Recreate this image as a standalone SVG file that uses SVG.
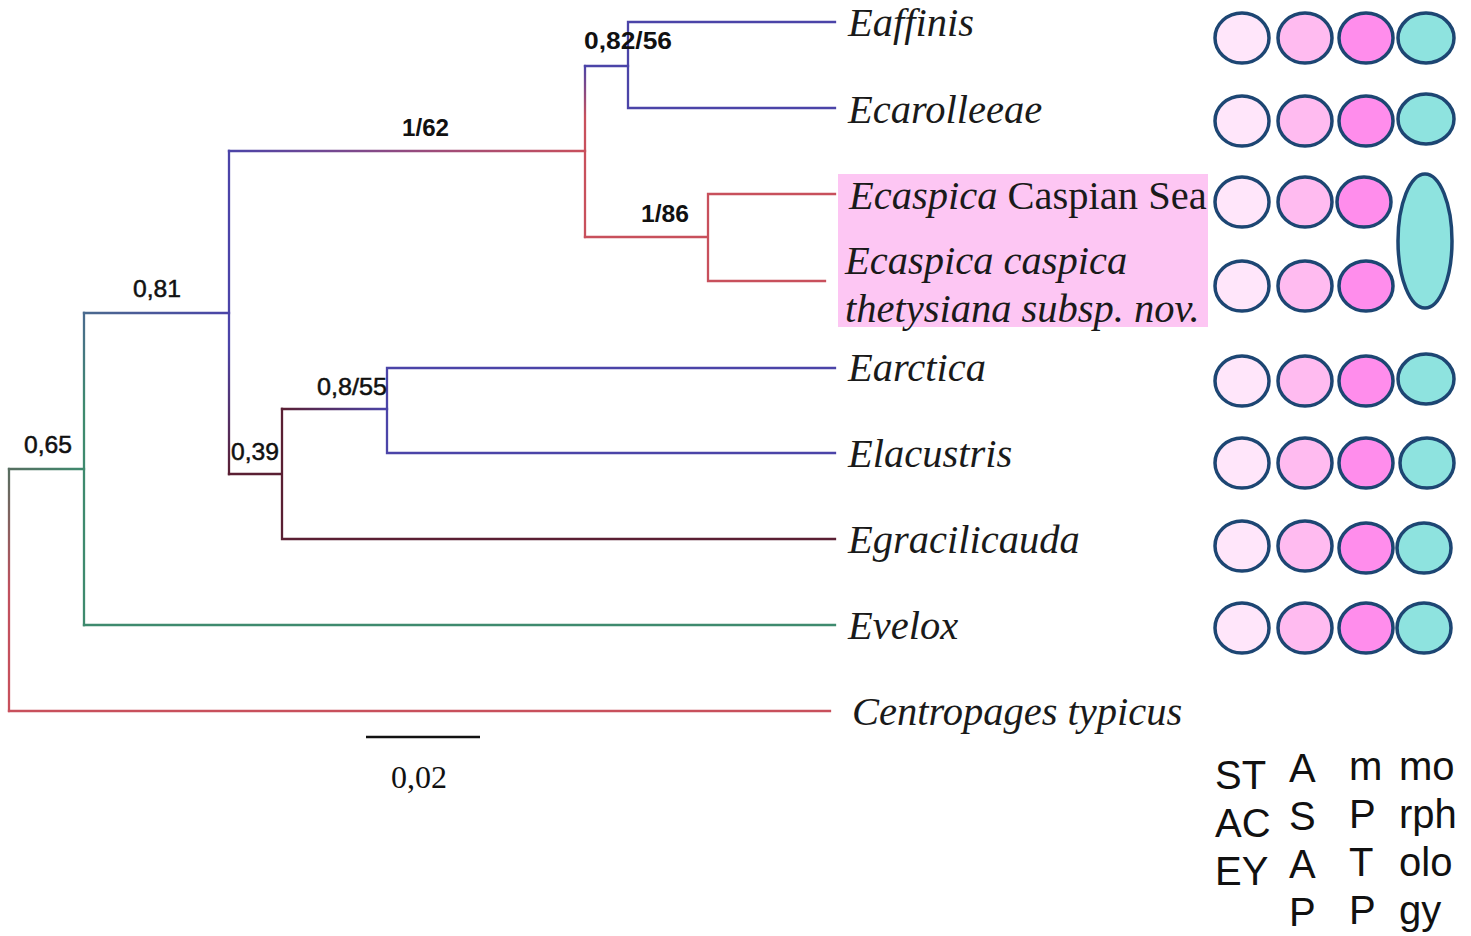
<svg xmlns="http://www.w3.org/2000/svg" width="1471" height="936" viewBox="0 0 1471 936">
<defs>
<style>
.br{fill:none;stroke-width:2.3;stroke-linecap:square}
.pu{stroke:#4b44a8}
.rd{stroke:#c8505c}
.gn{stroke:#3e8a6e}
.bn{stroke:#5a1f33}
.sup{font-family:"Liberation Sans",Arial,sans-serif;font-size:24px;fill:#111;stroke:#111;stroke-width:0.5}
.b{font-weight:bold;stroke-width:0}
.tx{font-family:"Liberation Serif","Times New Roman",serif;font-size:40.5px;font-style:italic;fill:#1a1a1a}
.up{font-style:normal}
.c{stroke:#1d4673;stroke-width:3.5}
.c1{fill:#ffe6fa}
.c2{fill:#ffbbf0}
.c3{fill:#ff8dec}
.c4{fill:#8ee3df}
.lg{font-family:"Liberation Sans",Arial,sans-serif;font-size:40px;fill:#111}
</style>
<linearGradient id="gRootV" gradientUnits="userSpaceOnUse" x1="0" y1="469" x2="0" y2="711"><stop offset="0" stop-color="#566e60"/><stop offset="0.5" stop-color="#c0505e"/><stop offset="1" stop-color="#c8505c"/></linearGradient>
<linearGradient id="gRootH" gradientUnits="userSpaceOnUse" x1="9" y1="0" x2="84" y2="0"><stop offset="0" stop-color="#566e60"/><stop offset="1" stop-color="#3e8a6e"/></linearGradient>
<linearGradient id="g84V" gradientUnits="userSpaceOnUse" x1="0" y1="313" x2="0" y2="625"><stop offset="0" stop-color="#4a6a8e"/><stop offset="0.3" stop-color="#3e8a6e"/><stop offset="1" stop-color="#3e8a6e"/></linearGradient>
<linearGradient id="g313H" gradientUnits="userSpaceOnUse" x1="84" y1="0" x2="229" y2="0"><stop offset="0" stop-color="#4a6a8e"/><stop offset="1" stop-color="#4b44a8"/></linearGradient>
<linearGradient id="g229V" gradientUnits="userSpaceOnUse" x1="0" y1="151" x2="0" y2="474"><stop offset="0" stop-color="#4b44a8"/><stop offset="0.6" stop-color="#4b44a8"/><stop offset="1" stop-color="#5a1f33"/></linearGradient>
<linearGradient id="g151H" gradientUnits="userSpaceOnUse" x1="229" y1="0" x2="585" y2="0"><stop offset="0" stop-color="#4b44a8"/><stop offset="0.6" stop-color="#a04c78"/><stop offset="1" stop-color="#c8505c"/></linearGradient>
<linearGradient id="g585V" gradientUnits="userSpaceOnUse" x1="0" y1="66" x2="0" y2="237"><stop offset="0" stop-color="#4b44a8"/><stop offset="0.3" stop-color="#c8505c"/><stop offset="1" stop-color="#c8505c"/></linearGradient>
<linearGradient id="g409H" gradientUnits="userSpaceOnUse" x1="282" y1="0" x2="387" y2="0"><stop offset="0" stop-color="#5a1f33"/><stop offset="1" stop-color="#4b44a8"/></linearGradient>
</defs>
<rect width="1471" height="936" fill="#ffffff"/>

<g id="connectors">
<path class="br" stroke="url(#gRootV)" d="M9,469 V711"/>
<path class="br rd" d="M9,711 H830"/>
<path class="br" stroke="url(#gRootH)" d="M9,469 H84"/>
<path class="br" stroke="url(#g84V)" d="M84,313 V625"/>
<path class="br gn" d="M84,625 H835"/>
<path class="br" stroke="url(#g313H)" d="M84,313 H229"/>
<path class="br" stroke="url(#g229V)" d="M229,151 V474"/>
<path class="br" stroke="url(#g151H)" d="M229,151 H585"/>
<path class="br" stroke="url(#g585V)" d="M585,66 V237"/>
<path class="br pu" d="M585,66 H628"/>
<path class="br pu" d="M628,22 V108 M628,22 H835 M628,108 H835"/>
<path class="br rd" d="M585,237 H708 M708,194 V281 M708,194 H835 M708,281 H825"/>
<path class="br bn" d="M229,474 H282 M282,409 V539 M282,539 H835"/>
<path class="br" stroke="url(#g409H)" d="M282,409 H387"/>
<path class="br pu" d="M387,368 V453 M387,368 H835 M387,453 H835"/>
</g>

<g id="support">
<text class="sup b" x="584" y="49" textLength="88" lengthAdjust="spacingAndGlyphs">0,82/56</text>
<text class="sup b" x="402" y="136" textLength="47" lengthAdjust="spacingAndGlyphs">1/62</text>
<text class="sup b" x="641" y="222" textLength="48" lengthAdjust="spacingAndGlyphs">1/86</text>
<text class="sup" x="133" y="297" textLength="48" lengthAdjust="spacingAndGlyphs">0,81</text>
<text class="sup" x="24" y="453" textLength="48" lengthAdjust="spacingAndGlyphs">0,65</text>
<text class="sup" x="231" y="460" textLength="48" lengthAdjust="spacingAndGlyphs">0,39</text>
<text class="sup" x="317" y="395" textLength="70" lengthAdjust="spacingAndGlyphs">0,8/55</text>
</g>

<g id="scale">
<line x1="366" y1="737" x2="480" y2="737" stroke="#111" stroke-width="2.5"/>
<text x="391" y="788" font-family="'Liberation Serif','Times New Roman',serif" font-size="32" fill="#111">0,02</text>
</g>

<g id="highlight">
<rect x="838" y="174" width="370" height="153" fill="#fdc6f3"/>
</g>

<g id="taxon-eaffinis">
<text class="tx" x="848" y="36">Eaffinis</text>
<ellipse class="c c1" cx="1242" cy="38" rx="27" ry="25"/>
<ellipse class="c c2" cx="1305" cy="38" rx="27" ry="25"/>
<ellipse class="c c3" cx="1366" cy="38" rx="27" ry="25"/>
<ellipse class="c c4" cx="1426" cy="38" rx="28" ry="25"/>
</g>
<g id="taxon-ecarolleeae">
<text class="tx" x="848" y="123">Ecarolleeae</text>
<ellipse class="c c1" cx="1242" cy="121" rx="27" ry="25"/>
<ellipse class="c c2" cx="1305" cy="121" rx="27" ry="25"/>
<ellipse class="c c3" cx="1366" cy="121" rx="27" ry="25"/>
<ellipse class="c c4" cx="1426" cy="119" rx="28" ry="25"/>
</g>
<g id="taxon-ecaspica-caspian">
<text class="tx" x="849" y="209" fill="#2a1630">Ecaspica <tspan class="up">Caspian Sea</tspan></text>
<ellipse class="c c1" cx="1242" cy="202" rx="27" ry="25"/>
<ellipse class="c c2" cx="1305" cy="202" rx="27" ry="25"/>
<ellipse class="c c3" cx="1364" cy="202" rx="27" ry="25"/>
</g>
<g id="taxon-ecaspica-thetysiana">
<text class="tx" x="845" y="274" fill="#2a1630">Ecaspica caspica</text>
<text class="tx" x="845" y="322" fill="#2a1630">thetysiana subsp. nov.</text>
<ellipse class="c c1" cx="1242" cy="286" rx="27" ry="25"/>
<ellipse class="c c2" cx="1305" cy="286" rx="27" ry="25"/>
<ellipse class="c c3" cx="1366" cy="286" rx="27" ry="25"/>
</g>
<g id="caspica-morphology">
<ellipse class="c c4" cx="1425" cy="241" rx="27" ry="67"/>
</g>
<g id="taxon-earctica">
<text class="tx" x="848" y="381">Earctica</text>
<ellipse class="c c1" cx="1242" cy="381" rx="27" ry="25"/>
<ellipse class="c c2" cx="1305" cy="381" rx="27" ry="25"/>
<ellipse class="c c3" cx="1366" cy="381" rx="27" ry="25"/>
<ellipse class="c c4" cx="1426" cy="379" rx="28" ry="25"/>
</g>
<g id="taxon-elacustris">
<text class="tx" x="848" y="467">Elacustris</text>
<ellipse class="c c1" cx="1242" cy="463" rx="27" ry="25"/>
<ellipse class="c c2" cx="1305" cy="463" rx="27" ry="25"/>
<ellipse class="c c3" cx="1366" cy="463" rx="27" ry="25"/>
<ellipse class="c c4" cx="1427" cy="463" rx="27" ry="25"/>
</g>
<g id="taxon-egracilicauda">
<text class="tx" x="848" y="553">Egracilicauda</text>
<ellipse class="c c1" cx="1242" cy="546" rx="27" ry="25"/>
<ellipse class="c c2" cx="1305" cy="546" rx="27" ry="25"/>
<ellipse class="c c3" cx="1366" cy="548" rx="27" ry="25"/>
<ellipse class="c c4" cx="1424" cy="548" rx="27" ry="25"/>
</g>
<g id="taxon-evelox">
<text class="tx" x="848" y="639">Evelox</text>
<ellipse class="c c1" cx="1242" cy="628" rx="27" ry="25"/>
<ellipse class="c c2" cx="1305" cy="628" rx="27" ry="25"/>
<ellipse class="c c3" cx="1366" cy="628" rx="27" ry="25"/>
<ellipse class="c c4" cx="1424" cy="628" rx="27" ry="25"/>
</g>
<g id="taxon-centropages">
<text class="tx" x="852" y="725">Centropages typicus</text>
</g>

<g id="legend">
<text class="lg" x="1215" y="789">ST</text>
<text class="lg" x="1215" y="837">AC</text>
<text class="lg" x="1215" y="885">EY</text>
<text class="lg" x="1289" y="782">A</text>
<text class="lg" x="1289" y="830">S</text>
<text class="lg" x="1289" y="878">A</text>
<text class="lg" x="1289" y="926">P</text>
<text class="lg" x="1349" y="780">m</text>
<text class="lg" x="1349" y="828">P</text>
<text class="lg" x="1349" y="876">T</text>
<text class="lg" x="1349" y="924">P</text>
<text class="lg" x="1399" y="780">mo</text>
<text class="lg" x="1399" y="828">rph</text>
<text class="lg" x="1399" y="876">olo</text>
<text class="lg" x="1399" y="924">gy</text>
</g>
</svg>
